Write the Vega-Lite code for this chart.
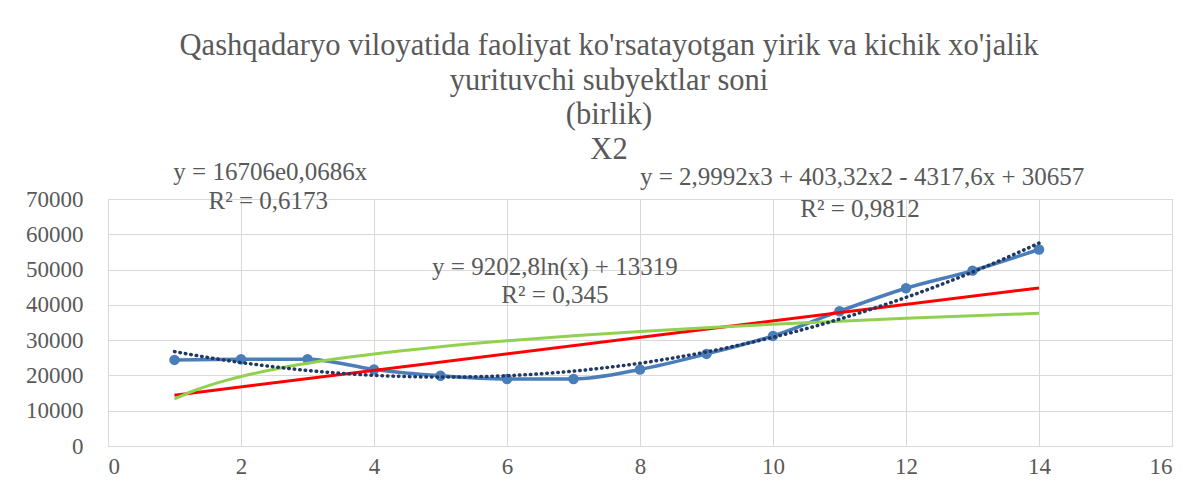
{
  "$schema": "https://vega.github.io/schema/vega-lite/v6.json",
  "autosize": "none",
  "width": 1064,
  "height": 247,
  "padding": {"left": 108, "top": 199, "right": 23, "bottom": 53},
  "background": "white",
  "title": {
    "text": ["Qashqadaryo viloyatida faoliyat ko'rsatayotgan yirik va kichik xo'jalik", "yurituvchi subyektlar soni", "(birlik)", "X2"],
    "font": "Liberation Serif",
    "fontSize": 30.5,
    "fontWeight": "normal",
    "color": "#595959",
    "lineHeight": 34.5,
    "anchor": "middle",
    "dx": -31,
    "offset": -5
  },
  "datasets": {
    "obs": [
      {"x": 1, "y": 24400}, {"x": 2, "y": 24600}, {"x": 3, "y": 24600}, {"x": 4, "y": 21700},
      {"x": 5, "y": 19900}, {"x": 6, "y": 19000}, {"x": 7, "y": 19000}, {"x": 8, "y": 21700},
      {"x": 9, "y": 26100}, {"x": 10, "y": 31200}, {"x": 11, "y": 38200}, {"x": 12, "y": 44700},
      {"x": 13, "y": 49700}, {"x": 14, "y": 55700}
    ],
    "poly": [
      {"x": 1, "y": 26746}, {"x": 1.5, "y": 25090}, {"x": 2, "y": 23659}, {"x": 2.5, "y": 22440}, {"x": 3, "y": 21415},
      {"x": 3.5, "y": 20620}, {"x": 4, "y": 20032}, {"x": 4.5, "y": 19680}, {"x": 5, "y": 19527}, {"x": 5.5, "y": 19620},
      {"x": 6, "y": 19919}, {"x": 6.5, "y": 20470}, {"x": 7, "y": 21225}, {"x": 7.5, "y": 22240}, {"x": 8, "y": 23464},
      {"x": 8.5, "y": 24950}, {"x": 9, "y": 26654}, {"x": 9.5, "y": 28630}, {"x": 10, "y": 30812}, {"x": 10.5, "y": 33260},
      {"x": 11, "y": 35957}, {"x": 11.5, "y": 38910}, {"x": 12, "y": 42106}, {"x": 12.5, "y": 45560}, {"x": 13, "y": 49278},
      {"x": 13.5, "y": 53260}, {"x": 14, "y": 57492}
    ],
    "logfit": [
      {"x": 1, "y": 13319}, {"x": 1.25, "y": 15370}, {"x": 1.5, "y": 17050}, {"x": 1.75, "y": 18470}, {"x": 2, "y": 19698},
      {"x": 2.5, "y": 21750}, {"x": 3, "y": 23429}, {"x": 3.5, "y": 24850}, {"x": 4, "y": 26077}, {"x": 5, "y": 28130},
      {"x": 6, "y": 29808}, {"x": 7, "y": 31227}, {"x": 8, "y": 32456}, {"x": 9, "y": 33540}, {"x": 10, "y": 34509},
      {"x": 11, "y": 35386}, {"x": 12, "y": 36187}, {"x": 13, "y": 36924}, {"x": 14, "y": 37606}
    ],
    "linfit": [
      {"x": 1, "y": 14400}, {"x": 14, "y": 44800}
    ],
    "labels": [
      {"x": 2.44, "y": 75300, "t": "y = 16706e0,0686x"},
      {"x": 2.41, "y": 67100, "t": "R² = 0,6173"},
      {"x": 11.34, "y": 73900, "t": "y = 2,9992x3  + 403,32x2 - 4317,6x + 30657"},
      {"x": 11.31, "y": 64900, "t": "R² = 0,9812"},
      {"x": 6.72, "y": 48400, "t": "y = 9202,8ln(x)  + 13319"},
      {"x": 6.72, "y": 40500, "t": "R² = 0,345"}
    ]
  },
  "config": {
    "view": {"stroke": "#d9d9d9", "strokeWidth": 1},
    "title": {"font": "Liberation Serif", "fontWeight": "normal"},
    "axis": {
      "labelFont": "Liberation Serif",
      "labelFontSize": 23,
      "labelColor": "#595959",
      "gridColor": "#d9d9d9",
      "gridWidth": 1,
      "domain": false,
      "ticks": false,
      "title": null
    }
  },
  "encoding": {
    "x": {"field": "x", "type": "quantitative", "scale": {"domain": [0, 16], "nice": false},
      "axis": {"values": [0, 2, 4, 6, 8, 10, 12, 14, 16], "labelPadding": 9, "grid": true}},
    "y": {"field": "y", "type": "quantitative", "scale": {"domain": [0, 70000], "nice": false},
      "axis": {"values": [0, 10000, 20000, 30000, 40000, 50000, 60000, 70000], "format": "d", "labelPadding": 25, "grid": true}}
  },
  "layer": [
    {"data": {"name": "obs"}, "mark": {"type": "line", "interpolate": "monotone", "color": "#4a7ebb", "strokeWidth": 3.5}},
    {"data": {"name": "obs"}, "mark": {"type": "point", "filled": true, "opacity": 1, "color": "#4a7ebb", "size": 110}},
    {"data": {"name": "linfit"}, "mark": {"type": "line", "color": "#ff0000", "strokeWidth": 3}},
    {"data": {"name": "logfit"}, "mark": {"type": "line", "interpolate": "monotone", "color": "#92d050", "strokeWidth": 3}},
    {"data": {"name": "poly"}, "mark": {"type": "line", "interpolate": "monotone", "color": "#1f3864", "strokeWidth": 3.5, "strokeDash": [0.5, 5], "strokeCap": "round"}},
    {"data": {"name": "labels"}, "mark": {"type": "text", "font": "Liberation Serif", "fontSize": 25, "color": "#595959", "align": "center", "baseline": "alphabetic"},
      "encoding": {"text": {"field": "t"}}}
  ]
}
